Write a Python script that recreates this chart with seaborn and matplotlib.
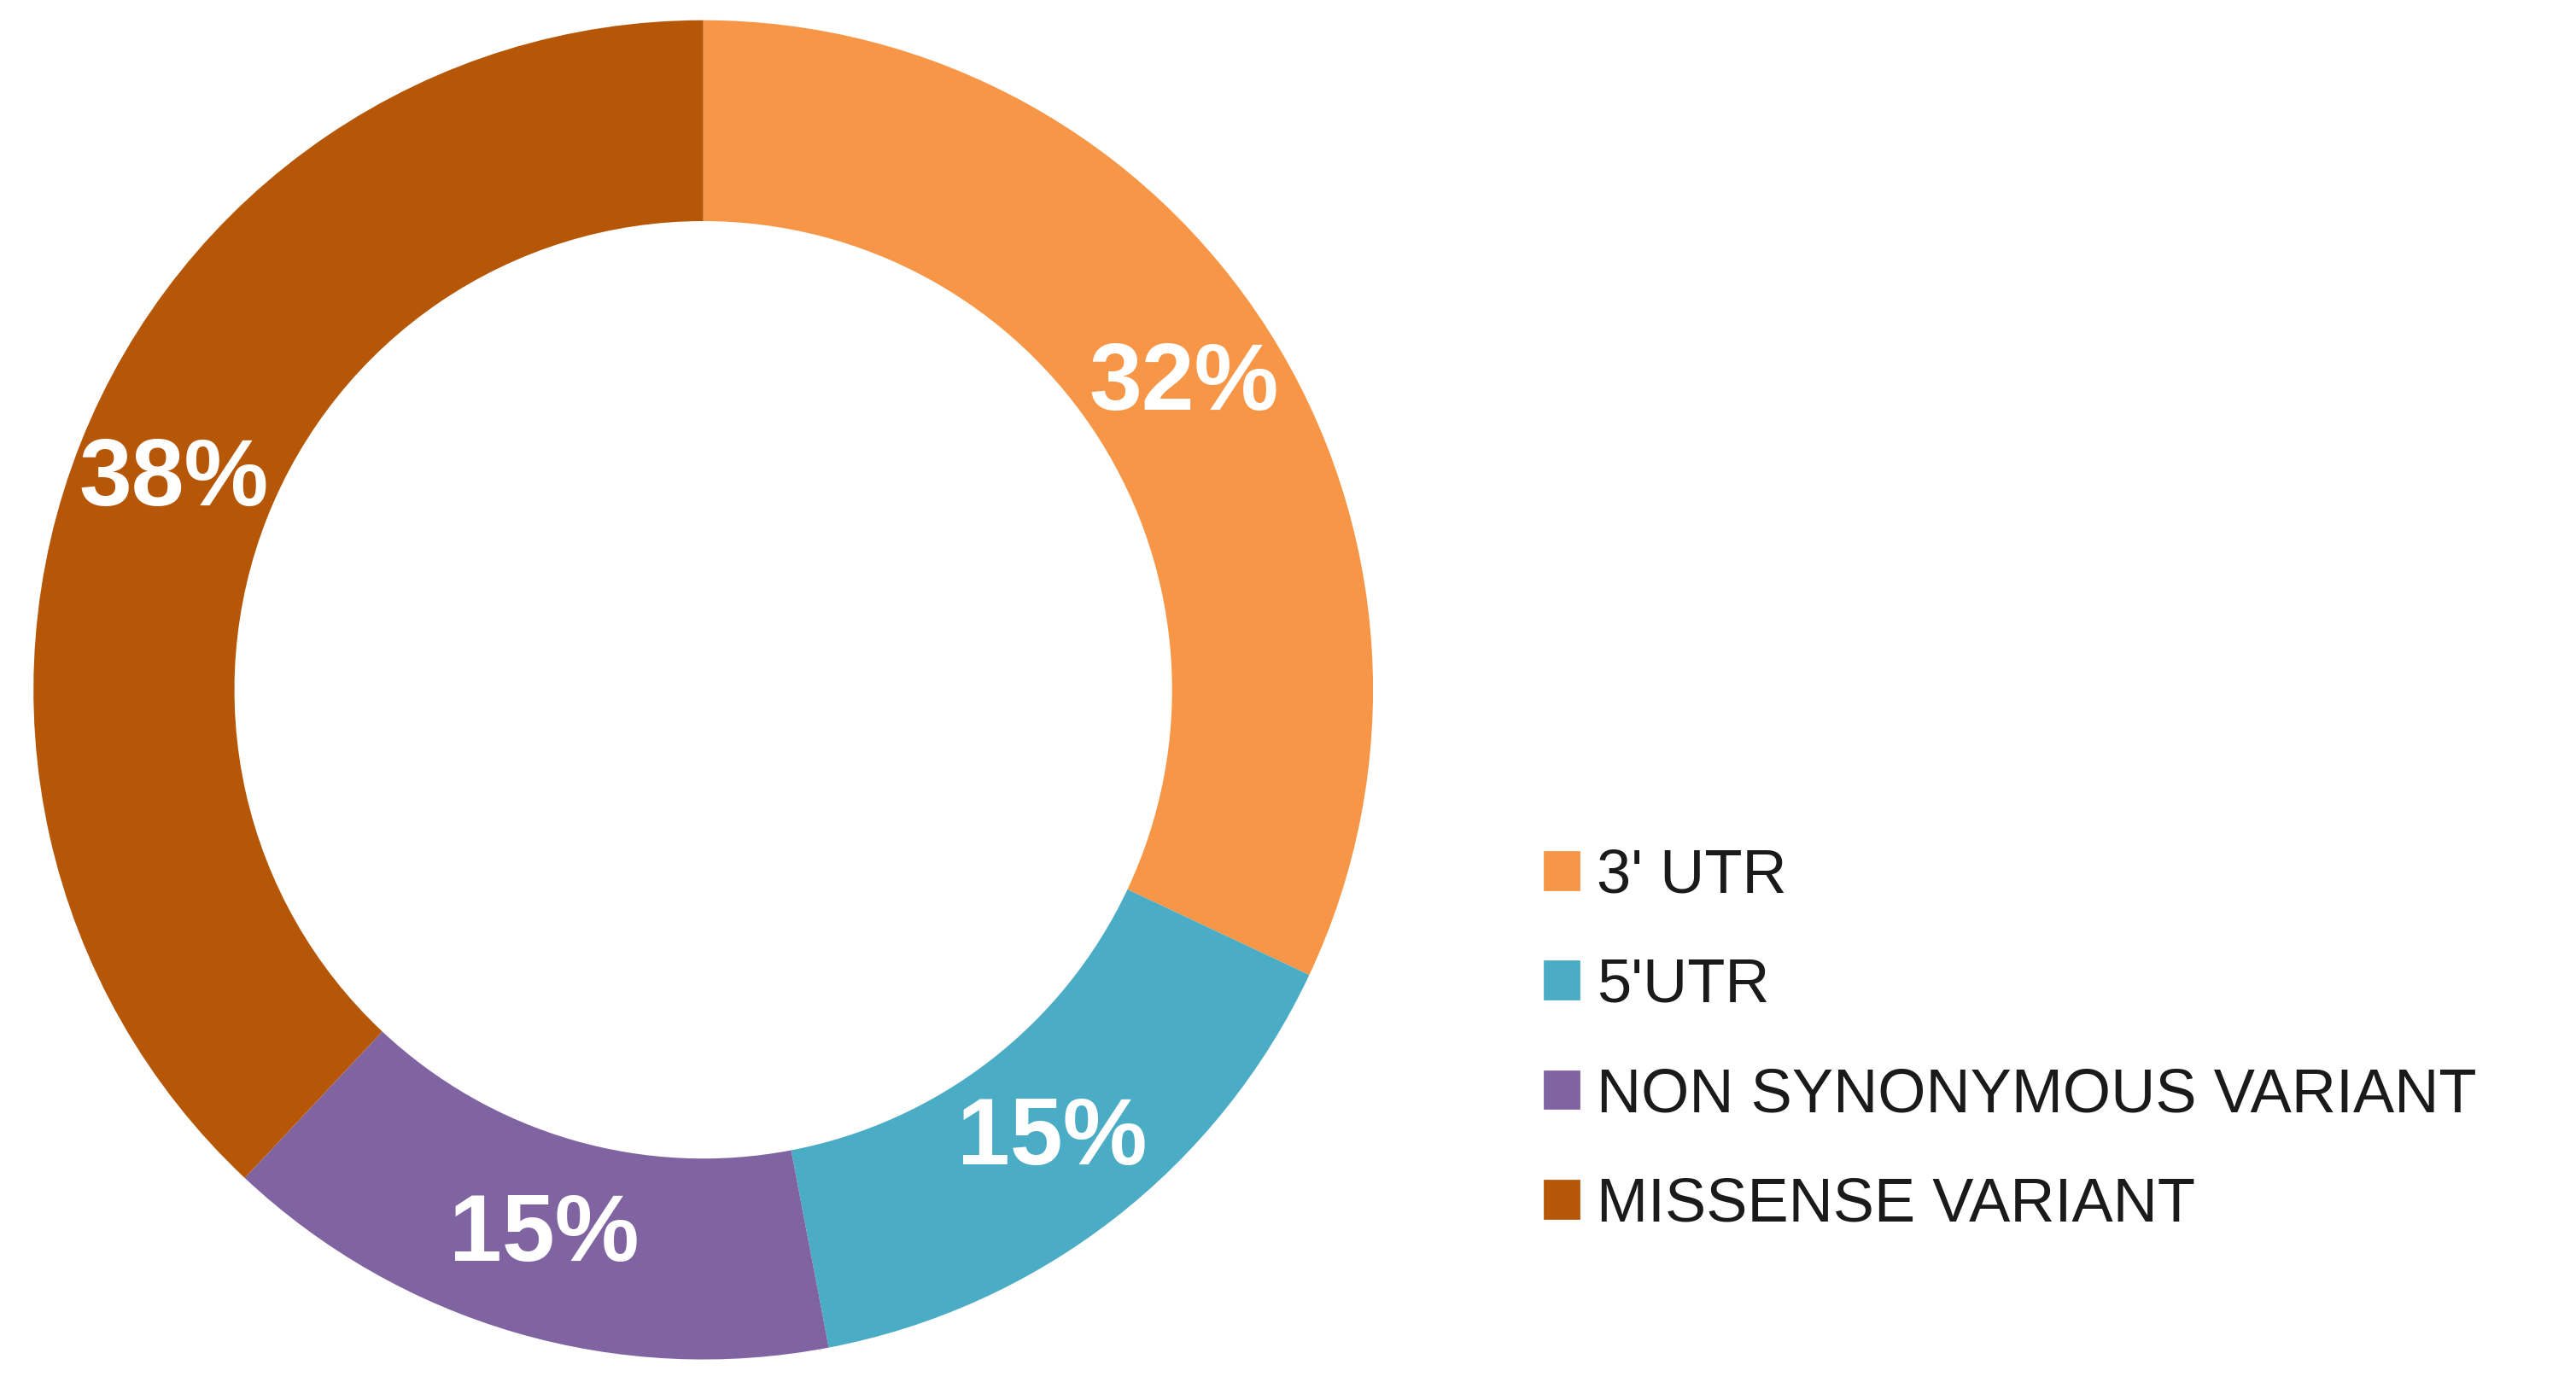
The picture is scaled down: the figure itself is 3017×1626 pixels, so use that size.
import matplotlib
matplotlib.use("Agg")
import matplotlib.pyplot as plt
import matplotlib.patches as mpatches
import seaborn as sns

categories = ["3' UTR", "5'UTR", "NON SYNONYMOUS VARIANT", "MISSENSE VARIANT"]
shares = [32, 15, 15, 38]
colors = sns.color_palette(["#F79646", "#4BACC6", "#8064A2", "#B65708"])

sns.set_style("white")
plt.rcParams['font.family'] = ['Liberation Sans', 'DejaVu Sans']

fig = plt.figure(figsize=(15.085, 8.13), dpi=200, facecolor='white')
ax = fig.add_axes([0.013, 0.02, 0.52, 0.966])

wedges, texts, autotexts = ax.pie(
    shares,
    colors=colors,
    startangle=90,
    counterclock=False,
    autopct='%d%%',
    pctdistance=0.85,
    wedgeprops=dict(width=0.3, edgecolor='none'),
    textprops=dict(color='white', fontsize=40, fontweight='bold'),
)
ax.set_xlim(-1, 1)
ax.set_ylim(-1, 1)
ax.set_aspect('equal')

handles = [mpatches.Patch(color=c, label=l) for c, l in zip(colors, categories)]
fig.legend(handles=handles, loc='center left', bbox_to_anchor=(0.578, 0.25),
           frameon=False, fontsize=26, handlelength=0.55, handleheight=0.55,
           handletextpad=0.3, labelspacing=0.85, labelcolor='#1a1a1a')

fig.savefig('out.png', dpi=200, facecolor='white')
